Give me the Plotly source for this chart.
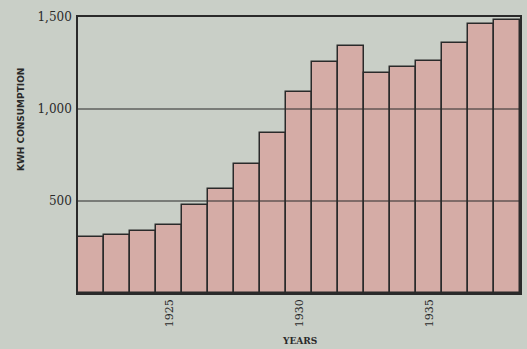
import plotly.graph_objects as go

years = list(range(1922, 1939))
kwh = [304, 313, 338, 369, 480, 566, 702, 871, 1091, 1256,
       1340, 1195, 1226, 1259, 1358, 1460, 1483]

x_ticks = [1925, 1930, 1935]
y_ticks = [500, 1000, 1500]
y_ticktext = ["500", "1,000", "1,500"]

BG = "#c9cfc7"
BAR = "#d5aca6"
INK = "#2a2a2a"

fig = go.Figure(
    go.Bar(
        x=years,
        y=kwh,
        marker=dict(color=BAR, line=dict(color=INK, width=1.5)),
    )
)

# the old chart draws its gridlines over the bars
for val in y_ticks[:-1]:
    fig.add_shape(
        type="line", xref="paper", yref="y", x0=0, x1=1, y0=val, y1=val,
        line=dict(color=INK, width=1.2), layer="above",
    )

fig.update_layout(
    width=527,
    height=349,
    paper_bgcolor=BG,
    plot_bgcolor=BG,
    bargap=0,
    showlegend=False,
    margin=dict(l=78, r=5, t=17, b=56),
    font=dict(family="DejaVu Serif", color=INK),
    xaxis=dict(
        range=[years[0] - 0.5, years[-1] + 0.5],
        tickvals=x_ticks,
        tickangle=-90,
        tickfont=dict(size=11),
        showgrid=False,
        zeroline=False,
        showline=True,
        mirror=True,
        linecolor=INK,
        linewidth=1.5,
        ticks="",
    ),
    yaxis=dict(
        range=[0, 1500],
        tickvals=y_ticks,
        ticktext=y_ticktext,
        tickfont=dict(size=12),
        showgrid=False,
        zeroline=False,
        showline=True,
        mirror=True,
        linecolor=INK,
        linewidth=1.5,
        ticks="",
        ticklabelstandoff=2,
    ),
    annotations=[
        dict(
            text="<b>KWH CONSUMPTION</b>", textangle=-90, showarrow=False,
            xref="paper", yref="paper", x=-0.145, y=0.63,
            font=dict(family="DejaVu Sans", size=9, color=INK),
        ),
        dict(
            text="<b>YEARS</b>", showarrow=False,
            xref="paper", yref="paper", x=0.5, y=-0.175, yanchor="middle",
            font=dict(family="DejaVu Serif", size=9, color=INK),
        ),
    ],
)

fig.write_html(
    "out.html",
    config={"displayModeBar": False},
    post_script="document.body.style.margin='0';document.body.style.overflow='hidden';",
)
